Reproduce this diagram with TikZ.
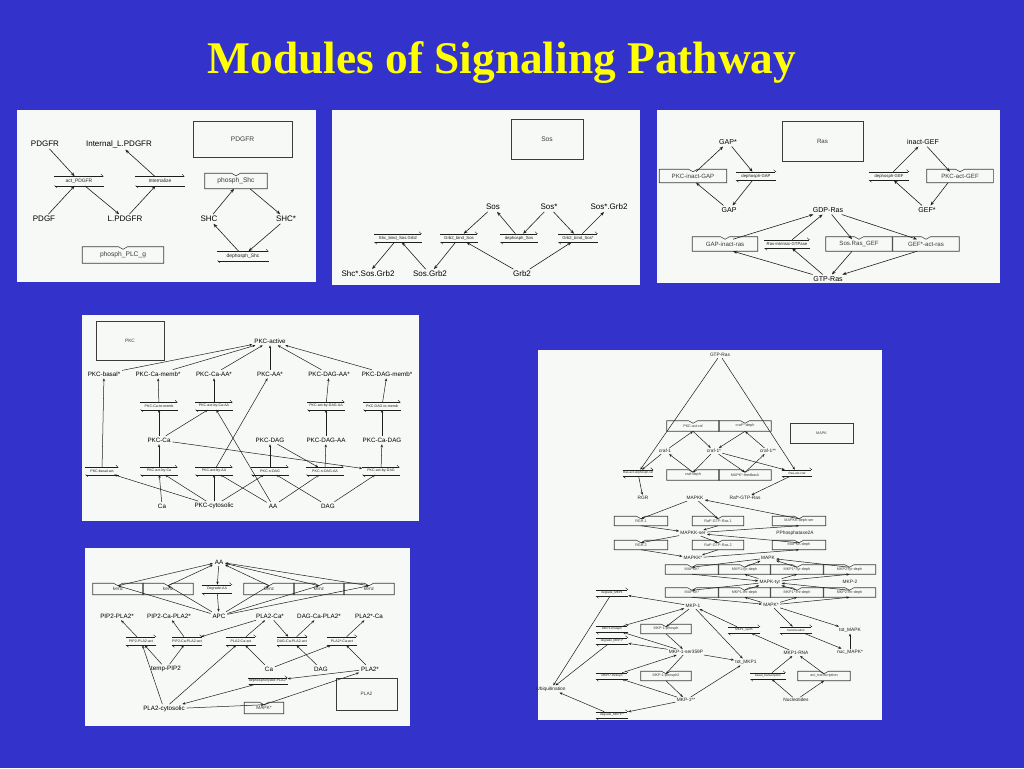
\documentclass[tikz,border=0pt]{standalone}
\usepackage{fontspec}
\setmainfont{Liberation Sans}
\newfontfamily\titlefont{Liberation Serif}
\usetikzlibrary{arrows.meta,calc}
\definecolor{bgblue}{RGB}{51,51,204}
\definecolor{panelbg}{RGB}{246,249,246}
\definecolor{titley}{RGB}{255,255,0}
\definecolor{ink}{RGB}{30,30,30}
\definecolor{inkl}{RGB}{60,60,60}
\tikzset{
 arr/.style={draw=ink, line width=0.45pt, -{Stealth[length=3pt,width=2.3pt]}},
 arrs/.style={draw=ink, line width=0.38pt, -{Stealth[length=2.3pt,width=1.8pt]}},
 harp/.style={draw=ink, line width=0.35pt, -{Straight Barb[harpoon,length=1.6pt,width=3pt]}},
 boxline/.style={draw=inkl, line width=0.42pt},
 rxnnode/.style={inner sep=0.2pt, text=ink},
 enznode/.style={inner sep=0.2pt, text=inkl},
 bigbox/.style={draw=inkl, line width=0.45pt, text=inkl, inner sep=0pt},
 spnode/.style={inner sep=1.3pt, text=black},
 fA/.style={font=\fontsize{6}{7}\selectfont},
 fB/.style={font=\fontsize{5.3}{6}\selectfont},
 fC/.style={font=\fontsize{4.7}{5}\selectfont},
 fD/.style={font=\fontsize{3.6}{4}\selectfont, inner sep=0.8pt, text=ink},
 rA/.style={font=\fontsize{3.7}{4}\selectfont},
 rB/.style={font=\fontsize{3.2}{3.5}\selectfont},
 rC/.style={font=\fontsize{2.7}{3}\selectfont},
 rD/.style={font=\fontsize{2.3}{2.5}\selectfont},
 eA/.style={font=\fontsize{5}{6}\selectfont},
 eB/.style={font=\fontsize{4.6}{5}\selectfont},
 eC/.style={font=\fontsize{3.6}{4}\selectfont},
 eD/.style={font=\fontsize{2.8}{3}\selectfont},
 title/.style={text=titley, font=\titlefont\bfseries\fontsize{34}{40}\selectfont, inner sep=0pt}
}
% species: style, name, x, y, text
\newcommand\mkspc[5]{\node[spnode,#1] (#2) at (#3,#4) {#5};}
% reaction: style, name, x, y, width, height, label
\newcommand\mkrxn[7]{%
 \node[rxnnode,#1,minimum width={#5*0.75pt},minimum height={#6*0.75pt}] (#2) at (#3,#4) {#7};
 \draw[harp] (#2.north west) -- (#2.north east);
 \draw[harp] (#2.south east) -- (#2.south west);}
% enzyme box: style, name, x, y, width, height, label
\newcommand\mkenz[7]{%
 \node[enznode,#1,minimum width={#5*0.75pt},minimum height={#6*0.75pt}] (#2) at (#3,#4) {#7};
 \draw[boxline] (#2.north west) -- ([xshift={-4.5*0.75pt}]#2.north) -- ([yshift={-2.5*0.75pt}]#2.north) -- ([xshift={4.5*0.75pt}]#2.north) -- (#2.north east) -- (#2.south east) -- (#2.south west) -- cycle;
 \coordinate (#2-n) at ([yshift={-2.5*0.75pt}]#2.north);}
\begin{document}
\begin{tikzpicture}[x=0.75pt,y=-0.75pt]
\fill[bgblue] (0,0) rectangle (1024,768);
\useasboundingbox (0,0) rectangle (1024,768);
\node[title, anchor=base] (ttl) at (502,73) {Modules of Signaling Pathway};

% ---------------- Panel 1 : PDGFR
\fill[panelbg] (17,110) rectangle (316,282);
\node[bigbox,eA,minimum width={99*0.75pt},minimum height={36*0.75pt}] (aBox) at (242.5,139) {PDGFR};
\mkspc{fA}{aPDGFR}{45}{144}{PDGFR}
\mkspc{fA}{aInt}{119}{144}{Internal\_L.PDGFR}
\mkspc{fA}{aPDGF}{44}{219}{PDGF}
\mkspc{fA}{aLP}{125}{219}{L.PDGFR}
\mkspc{fA}{aSHC}{209}{219}{SHC}
\mkspc{fA}{aSHCs}{286}{219}{SHC*}
\mkrxn{rA}{aAct}{79}{181}{49}{9}{act\_PDGFR}
\mkrxn{rA}{aIntz}{160}{181}{49}{9}{Internalize}
\mkenz{eA}{aPh}{236}{181}{62}{15}{phosph\_Shc}
\mkenz{eA}{aPLC}{123}{255}{81}{16}{phosph\_PLC\_g}
\mkrxn{rA}{aDeph}{243}{256}{51}{9}{dephosph\_Shc}
\draw[arr] (aPDGFR) -- (aAct);
\draw[arr] (aPDGF) -- (aAct);
\draw[arr] (aAct) -- (aLP);
\draw[arr] (aLP) -- (aIntz);
\draw[arr] (aIntz) -- (aInt);
\draw[arr] (aSHC) -- ([xshift={-2*0.75pt}]aPh.south);
\draw[arr] ([xshift={14*0.75pt}]aPh.south) -- (aSHCs);
\draw[arr] (aSHCs) -- (aDeph);
\draw[arr] (aDeph) -- (aSHC);

% ---------------- Panel 2 : Sos
\fill[panelbg] (332,110) rectangle (640,285);
\node[bigbox,eA,minimum width={72*0.75pt},minimum height={40*0.75pt}] (bBox) at (547,139) {Sos};
\mkspc{fA}{bSos}{493}{207}{Sos}
\mkspc{fA}{bSoss}{549}{207}{Sos*}
\mkspc{fA}{bSosGrb}{609}{207}{Sos*.Grb2}
\mkspc{fA}{bShcSos}{368}{274}{Shc*.Sos.Grb2}
\mkspc{fA}{bSosGrb2}{430}{274}{Sos.Grb2}
\mkspc{fA}{bGrb2}{522}{274}{Grb2}
\mkrxn{rB}{bShcbind}{398}{238}{47}{8}{Shc\_bind\_Sos.Grb2}
\mkrxn{rB}{bGrbbind}{459}{238}{37}{8}{Grb2\_bind\_Sos}
\mkrxn{rB}{bDeph}{519}{238}{37}{8}{dephosph\_Sos}
\mkrxn{rB}{bGrbbind2}{578}{238}{39}{8}{Grb2\_bind\_Sos*}
\draw[arr] (bSosGrb2) -- (bShcbind);
\draw[arr] (bShcbind) -- (bShcSos);
\draw[arr] (bGrbbind) -- (bSosGrb2);
\draw[arr] (bSos) -- (bGrbbind);
\draw[arr] (bGrb2) -- (bGrbbind);
\draw[arr] (bDeph) -- (bSos);
\draw[arr] (bSoss) -- (bDeph);
\draw[arr] (bSoss) -- (bGrbbind2);
\draw[arr] (bGrb2) -- (bGrbbind2);
\draw[arr] (bGrbbind2) -- (bSosGrb);

% ---------------- Panel 3 : Ras
\fill[panelbg] (657,110) rectangle (1000,283);
\node[bigbox,eB,minimum width={81*0.75pt},minimum height={40*0.75pt}] (cBox) at (822.5,141) {Ras};
\mkspc{fB}{cGAPs}{728}{142}{GAP*}
\mkspc{fB}{cinGEF}{923}{142}{inact-GEF}
\mkspc{fB}{cGAP}{729}{210}{GAP}
\mkspc{fB}{cGDP}{828}{210}{GDP-Ras}
\mkspc{fB}{cGEFs}{927}{210}{GEF*}
\mkspc{fB}{cGTP}{828}{279}{GTP-Ras}
\mkenz{eB}{cPKCin}{693}{176}{67}{13}{PKC-inact-GAP}
\mkrxn{rB}{cdGAP}{756}{176}{40}{8}{dephosph-GAP}
\mkrxn{rB}{cdGEF}{889}{176}{40}{8}{dephosph-GEF}
\mkenz{eB}{cPKCact}{960}{176}{66}{13}{PKC-act-GEF}
\mkenz{eB}{cGAPin}{725}{244}{65}{14}{GAP-inact-ras}
\mkrxn{rB}{cIntr}{787}{244}{45}{8}{Ras-intrinsic-GTPase}
\mkenz{eB}{cSosR}{859}{244}{66}{14}{Sos.Ras\_GEF}
\mkenz{eB}{cGEFact}{926}{244}{66}{14}{GEF*-act-ras}
\draw[arr] (cGAP) -- ([xshift={3*0.75pt}]cPKCin.south);
\draw[arr] ([xshift={3*0.75pt}]cPKCin-n) -- (cGAPs);
\draw[arr] (cGAPs) -- (cdGAP);
\draw[arr] (cdGAP) -- (cGAP);
\draw[arr] (cinGEF) -- ([xshift={-10*0.75pt}]cPKCact-n);
\draw[arr] ([xshift={-12*0.75pt}]cPKCact.south) -- (cGEFs);
\draw[arr] (cGEFs) -- (cdGEF);
\draw[arr] (cdGEF) -- (cinGEF);
\draw[arr] (cGTP) -- ([xshift={8*0.75pt}]cGAPin.south);
\draw[arr] ([xshift={8*0.75pt}]cGAPin-n) -- (cGDP);
\draw[arr] (cGTP) -- (cIntr);
\draw[arr] (cIntr) -- (cGDP);
\draw[arr] (cGDP) -- ([xshift={-7*0.75pt}]cSosR-n);
\draw[arr] ([xshift={-7*0.75pt}]cSosR.south) -- (cGTP);
\draw[arr] (cGDP) -- ([xshift={-9*0.75pt}]cGEFact-n);
\draw[arr] ([xshift={-9*0.75pt}]cGEFact.south) -- (cGTP);

% ---------------- Panel 4 : PKC
\fill[panelbg] (82,315) rectangle (419,521);
\node[bigbox,eC,minimum width={68*0.75pt},minimum height={39*0.75pt}] (dBox) at (130,340.5) {PKC};
\mkspc{fC}{dAct}{270}{341}{PKC-active}
\mkspc{fC}{dBasal}{104}{374}{PKC-basal*}
\mkspc{fC}{dCaM}{158}{374}{PKC-Ca-memb*}
\mkspc{fC}{dCaAA}{214}{374}{PKC-Ca-AA*}
\mkspc{fC}{dAAs}{270}{374}{PKC-AA*}
\mkspc{fC}{dDAGAAs}{329}{374}{PKC-DAG-AA*}
\mkspc{fC}{dDAGM}{387}{374}{PKC-DAG-memb*}
\mkrxn{rC}{dr1}{159}{406}{37}{7}{PKC-Ca-to-memb}
\mkrxn{rC}{dr2}{214}{406}{37}{7}{PKC-act-by-Ca-AA}
\mkrxn{rC}{dr3}{326}{406}{37}{7}{PKC-act-by-DAG-AA}
\mkrxn{rC}{dr4}{382}{406}{37}{7}{PKC-DAG-to-memb}
\mkspc{fC}{dCa1}{159}{440}{PKC-Ca}
\mkspc{fC}{dDAG1}{270}{440}{PKC-DAG}
\mkspc{fC}{dDAGAA}{326}{440}{PKC-DAG-AA}
\mkspc{fC}{dCaDAG}{382}{440}{PKC-Ca-DAG}
\mkrxn{rC}{ds1}{102}{471}{33}{7}{PKC-basal-act}
\mkrxn{rC}{ds2}{159}{471}{37}{7}{PKC-act-by-Ca}
\mkrxn{rC}{ds3}{214}{471}{37}{7}{PKC-act-by-AA}
\mkrxn{rC}{ds4}{270}{471}{37}{7}{PKC-n-DAG}
\mkrxn{rC}{ds5}{325}{471}{37}{7}{PKC-n-DAG-AA}
\mkrxn{rC}{ds6}{381}{471}{37}{7}{PKC-act-by-DAG}
\mkspc{fC}{dCa}{162}{506}{Ca}
\mkspc{fC}{dCyt}{214}{506}{PKC-cytosolic}
\mkspc{fC}{dAA}{273}{506}{AA}
\mkspc{fC}{dDAG}{328}{506}{DAG}
\draw[arrs] (dBasal) -- (dAct);
\draw[arrs] (dCaM) -- (dAct);
\draw[arrs] (dCaAA) -- (dAct);
\draw[arrs] (dAAs) -- (dAct);
\draw[arrs] (dDAGAAs) -- (dAct);
\draw[arrs] (dDAGM) -- (dAct);
\draw[arrs] (ds1) -- (dBasal);
\draw[arrs] (dr1) -- (dCaM);
\draw[arrs] (dCa1) -- (dr1);
\draw[arrs] (ds2) -- (dCa1);
\draw[arrs] (dCa) -- (ds2);
\draw[arrs] (dCyt) -- (ds2);
\draw[arrs] (dCyt) -- (ds1);
\draw[arrs] (dr2) -- (dCaAA);
\draw[arrs] (dCa1) -- (dr2);
\draw[arrs] (dAA) -- (dr2);
\draw[arrs] (ds3) -- (dAAs);
\draw[arrs] (dCyt) -- (ds3);
\draw[arrs] (dAA) -- (ds3);
\draw[arrs] (ds4) -- (dDAG1);
\draw[arrs] (dCyt) -- (ds4);
\draw[arrs] (dDAG) -- (ds4);
\draw[arrs] (dDAG1) -- (ds5);
\draw[arrs] (dAA) -- (ds5);
\draw[arrs] (ds5) -- (dDAGAA);
\draw[arrs] (dDAGAA) -- (dr3);
\draw[arrs] (dr3) -- (dDAGAAs);
\draw[arrs] (dCa1) -- (ds6);
\draw[arrs] (dDAG) -- (ds6);
\draw[arrs] (ds6) -- (dCaDAG);
\draw[arrs] (dCaDAG) -- (dr4);
\draw[arrs] (dr4) -- (dDAGM);

% ---------------- Panel 5 : PLA2
\fill[panelbg] (85,548) rectangle (410,726);
\node[bigbox,eC,minimum width={61*0.75pt},minimum height={32*0.75pt}] (eBox) at (366.5,694) {PLA2};
\mkspc{fC}{eAA}{219}{562}{AA}
\mkenz{eC}{ek1}{118}{589}{50}{11}{kenz}
\mkenz{eC}{ek2}{168}{589}{50}{11}{kenz}
\mkrxn{rC}{eDeg}{217}{589}{30}{8}{Degrade-AA}
\mkenz{eC}{ek3}{269}{589}{50}{11}{kenz}
\mkenz{eC}{ek4}{319}{589}{50}{11}{kenz}
\mkenz{eC}{ek5}{369}{589}{50}{11}{kenz}
\mkspc{fC}{ePP}{117}{616}{PIP2-PLA2*}
\mkspc{fC}{ePCP}{169}{616}{PIP2-Ca-PLA2*}
\mkspc{fC}{eAPC}{219}{616}{APC}
\mkspc{fC}{ePCa}{270}{616}{PLA2-Ca*}
\mkspc{fC}{eDCP}{319}{616}{DAG-Ca-PLA2*}
\mkspc{fC}{ePsCa}{369}{616}{PLA2*-Ca}
\mkrxn{rC}{er1}{141}{641}{30}{8}{PIP2-PLA2-act}
\mkrxn{rC}{er2}{187}{641}{30}{8}{PIP2-Ca-PLA2-act}
\mkrxn{rC}{er3}{241}{641}{30}{8}{PLA2-Ca-act}
\mkrxn{rC}{er4}{292}{641}{30}{8}{DAG-Ca-PLA2-act}
\mkrxn{rC}{er5}{342}{641}{30}{8}{PLA2*-Ca-act}
\mkspc{fC}{eTemp}{166}{669}{temp-PIP2}
\mkspc{fC}{eCa}{269}{669}{Ca}
\mkspc{fC}{eDAG}{321}{669}{DAG}
\mkspc{fC}{ePs}{370}{669}{PLA2*}
\mkrxn{rC}{eDph}{268}{681}{32}{6}{dephosphorylate-PLA2*}
\mkspc{fC}{eCyt}{164}{709}{PLA2-cytosolic}
\mkenz{eC}{eMAPK}{264}{708}{39}{11}{MAPK*}
\foreach \k in {ek1,ek2,ek3,ek4,ek5}{
 \draw[arrs] (eAPC) -- (\k-n);
 \draw[arrs] (\k-n) -- (eAA);}
\draw[arrs] (eAA) -- (eDeg);
\draw[arrs] (eDeg) -- (eAPC);
\draw[arrs] (er1) -- (ePP);
\draw[arrs] (eTemp) -- (er1);
\draw[arrs] (eCyt) -- (er1);
\draw[arrs] (er2) -- (ePCP);
\draw[arrs] (eTemp) -- (er2);
\draw[arrs] (ePCa) -- (er2);
\draw[arrs] (er3) -- (ePCa);
\draw[arrs] (eCyt) -- (er3);
\draw[arrs] (eCa) -- (er3);
\draw[arrs] (ePCa) -- (er4);
\draw[arrs] (eDAG) -- (er4);
\draw[arrs] (er4) -- (eDCP);
\draw[arrs] (eCa) -- (er5);
\draw[arrs] (ePs) -- (er5);
\draw[arrs] (er5) -- (ePsCa);
\draw[arrs] (ePs) -- (eDph);
\draw[arrs] (eDph) -- (eCyt);
\draw[arrs] (eCyt) -- (eMAPK-n);
\draw[arrs] (eMAPK-n) -- (ePs);

% ---------------- Panel 6 : MAPK
\fill[panelbg] (538,350) rectangle (882,720);
\node[bigbox,eD,minimum width={63*0.75pt},minimum height={20*0.75pt}] (fBox) at (821.5,433) {MAPK};
\mkspc{fD}{fGTP}{720}{355}{GTP-Ras}
\mkenz{eD}{fPKCraf}{693}{426}{52}{10}{PKC-act-raf}
\mkenz{eD}{fCrafDeph}{745}{426}{52}{10}{craf**-deph}
\mkspc{fD}{fc1}{665}{451}{craf-1}
\mkspc{fD}{fc1s}{714}{451}{craf-1*}
\mkspc{fD}{fc1ss}{768}{451}{craf-1**}
\mkenz{eD}{fcDeph}{693}{475}{52}{10}{craf-deph}
\mkenz{eD}{fFeed}{745}{475}{52}{10}{MAPK*-feedback}
\mkrxn{rD}{fRasU}{638}{473}{30}{6}{Ras-act-unphosph-raf}
\mkrxn{rD}{fRasC}{797}{473}{30}{6}{Ras-act-craf}
\mkspc{fD}{fRGR}{643}{498}{RGR}
\mkspc{fD}{fMAPKK}{695}{498}{MAPKK}
\mkspc{fD}{fRafG}{745}{498}{Raf*-GTP-Ras}
\mkenz{eD}{fRGR1}{641}{521}{53}{9}{RGR.1}
\mkenz{eD}{fRaf1}{718}{521}{51}{9}{Raf*-GTP-Ras.1}
\mkenz{eD}{fDSer}{799}{521}{53}{9}{MAPKK-deph-ser}
\mkspc{fD}{fSer}{693}{533}{MAPKK-ser}
\mkspc{fD}{fPP2A}{795}{533}{PPhosphatase2A}
\mkenz{eD}{fRGR2}{641}{545}{53}{9}{RGR.2}
\mkenz{eD}{fRaf2}{718}{545}{51}{9}{Raf*-GTP-Ras.2}
\mkenz{eD}{fDph}{799}{545}{53}{9}{MAPKK-deph}
\mkspc{fD}{fKKs}{693}{558}{MAPKK*}
\mkspc{fD}{fMAPK}{768}{558}{MAPK}
\mkenz{eD}{fK1}{692}{569.5}{53}{9}{MAPKK*}
\mkenz{eD}{fT1}{744.5}{569.5}{52}{9}{MKP1-tyr-deph}
\mkenz{eD}{fT2}{797}{569.5}{53}{9}{MKP1*-tyr-deph}
\mkenz{eD}{fT3}{849.5}{569.5}{52}{9}{MKP2-tyr-deph}
\mkspc{fD}{fTyr}{770}{582}{MAPK-tyr}
\mkspc{fD}{fMKP2}{850}{582}{MKP-2}
\mkenz{eD}{fK2}{692}{592.5}{53}{9}{MAPKK*}
\mkenz{eD}{fH1}{744.5}{592.5}{52}{9}{MKP1-thr-deph}
\mkenz{eD}{fH2}{797}{592.5}{53}{9}{MKP1*-thr-deph}
\mkenz{eD}{fH3}{849.5}{592.5}{52}{9}{MKP2-thr-deph}
\mkspc{fD}{fMAPKs}{771}{605}{MAPK*}
\mkrxn{rD}{fDegA}{612}{593}{32}{6}{degrade\_MKP1}
\mkspc{fD}{fMKP1}{693}{606}{MKP-1}
\mkrxn{rD}{fB}{612}{629}{32}{6}{MKP1-thrdeph}
\mkenz{eD}{fMph}{666}{629}{50}{9}{MKP-1-phosph}
\mkrxn{rD}{fSyn}{744}{630}{32}{6}{MKP1\_synth}
\mkrxn{rD}{fTrans}{796}{630}{32}{6}{translocation}
\mkspc{fD}{fTotMAPK}{850}{630}{tot\_MAPK}
\mkrxn{rD}{fD}{612}{641}{32}{6}{degrade\_MKP1*}
\mkspc{fD}{fMser}{686}{652}{MKP-1-ser359P}
\mkspc{fD}{fTotMKP}{746}{662}{tot\_MKP1}
\mkspc{fD}{fRNA}{796}{653}{MKP1-RNA}
\mkspc{fD}{fNuc}{850}{652}{nuc\_MAPK*}
\mkrxn{rD}{fE}{612}{676}{32}{6}{MKP1*-thrdeph}
\mkenz{eD}{fMph2}{666}{676}{50}{9}{MKP-1-phosph2}
\mkrxn{rD}{fBasal}{768}{676}{35}{6}{basal\_transcription}
\mkenz{eD}{fActT}{824}{676}{52}{9}{act\_transcription}
\mkspc{fD}{fUbi}{551}{689}{Ubiquitination}
\mkspc{fD}{fMss}{686}{700}{MKP-1**}
\mkspc{fD}{fNucl}{796}{700}{Nucleotides}
\mkrxn{rD}{fF}{612}{715}{32}{6}{degrade\_MKP1**}
% raf module
\draw[arrs] (fGTP) -- (fRasU);
\draw[arrs] (fGTP) -- (fRasC);
\draw[arrs] (fc1) -- (fRasU);
\draw[arrs] (fRasU) -- (fRGR);
\draw[arrs] (fc1s) -- (fRasC);
\draw[arrs] (fRasC) -- (fRafG);
\draw[arrs] (fc1) -- (fPKCraf.south);
\draw[arrs] (fPKCraf.south) -- (fc1s);
\draw[arrs] (fc1ss) -- (fCrafDeph.south);
\draw[arrs] (fCrafDeph.south) -- (fc1s);
\draw[arrs] (fc1s) -- (fcDeph-n);
\draw[arrs] (fcDeph-n) -- (fc1);
\draw[arrs] (fc1s) -- (fFeed-n);
\draw[arrs] (fFeed-n) -- (fc1ss);
% MAPKK module
\draw[arrs] (fMAPKK) -- (fRGR1-n);
\draw[arrs] (fRGR1.south) -- (fSer);
\draw[arrs] (fMAPKK) -- (fRaf1-n);
\draw[arrs] (fRaf1.south) -- (fSer);
\draw[arrs] (fSer) -- (fDSer.south);
\draw[arrs] (fDSer-n) -- (fMAPKK);
\draw[arrs] (fSer) -- (fRGR2-n);
\draw[arrs] (fRGR2.south) -- (fKKs);
\draw[arrs] (fSer) -- (fRaf2-n);
\draw[arrs] (fRaf2.south) -- (fKKs);
\draw[arrs] (fKKs) -- (fDph.south);
\draw[arrs] (fDph-n) -- (fSer);
% MAPK module
\draw[arrs] (fMAPK) -- (fK1-n);
\draw[arrs] (fK1.south) -- (fTyr);
\foreach \t in {fT1,fT2,fT3}{
 \draw[arrs] (fTyr) -- (\t.south);
 \draw[arrs] (\t-n) -- (fMAPK);}
\draw[arrs] (fTyr) -- (fK2-n);
\draw[arrs] (fK2.south) -- (fMAPKs);
\foreach \t in {fH1,fH2,fH3}{
 \draw[arrs] (fMAPKs) -- (\t.south);
 \draw[arrs] (\t-n) -- (fTyr);}
% MKP-1 module
\draw[arrs] (fMKP1) -- (fDegA);
\draw[arrs] (fDegA) -- (fUbi);
\draw[arrs] (fMKP1) -- (fMph-n);
\draw[arrs] (fMph.south) -- (fMser);
\draw[arrs] (fMser) -- (fB);
\draw[arrs] (fB) -- (fMKP1);
\draw[arrs] (fMKP1) -- (fTotMKP);
\draw[arrs] (fMser) -- (fTotMKP);
\draw[arrs] (fMss) -- (fTotMKP);
\draw[arrs] (fRNA) -- (fSyn);
\draw[arrs] (fSyn) -- (fMKP1);
\draw[arrs] (fMAPKs) -- (fTrans);
\draw[arrs] (fTrans) -- (fNuc);
\draw[arrs] (fMAPKs) -- (fTotMAPK);
\draw[arrs] (fNuc) -- (fTotMAPK);
\draw[arrs] (fMser) -- (fD);
\draw[arrs] (fD) -- (fUbi);
\draw[arrs] (fMser) -- (fMph2-n);
\draw[arrs] (fMph2.south) -- (fMss);
\draw[arrs] (fMss) -- (fE);
\draw[arrs] (fE) -- (fMser);
\draw[arrs] (fMss) -- (fF);
\draw[arrs] (fF) -- (fUbi);
\draw[arrs] (fNucl) -- (fBasal);
\draw[arrs] (fBasal) -- (fRNA);
\draw[arrs] (fNucl) -- (fActT.south);
\draw[arrs] (fActT-n) -- (fRNA);
\end{tikzpicture}
\end{document}
